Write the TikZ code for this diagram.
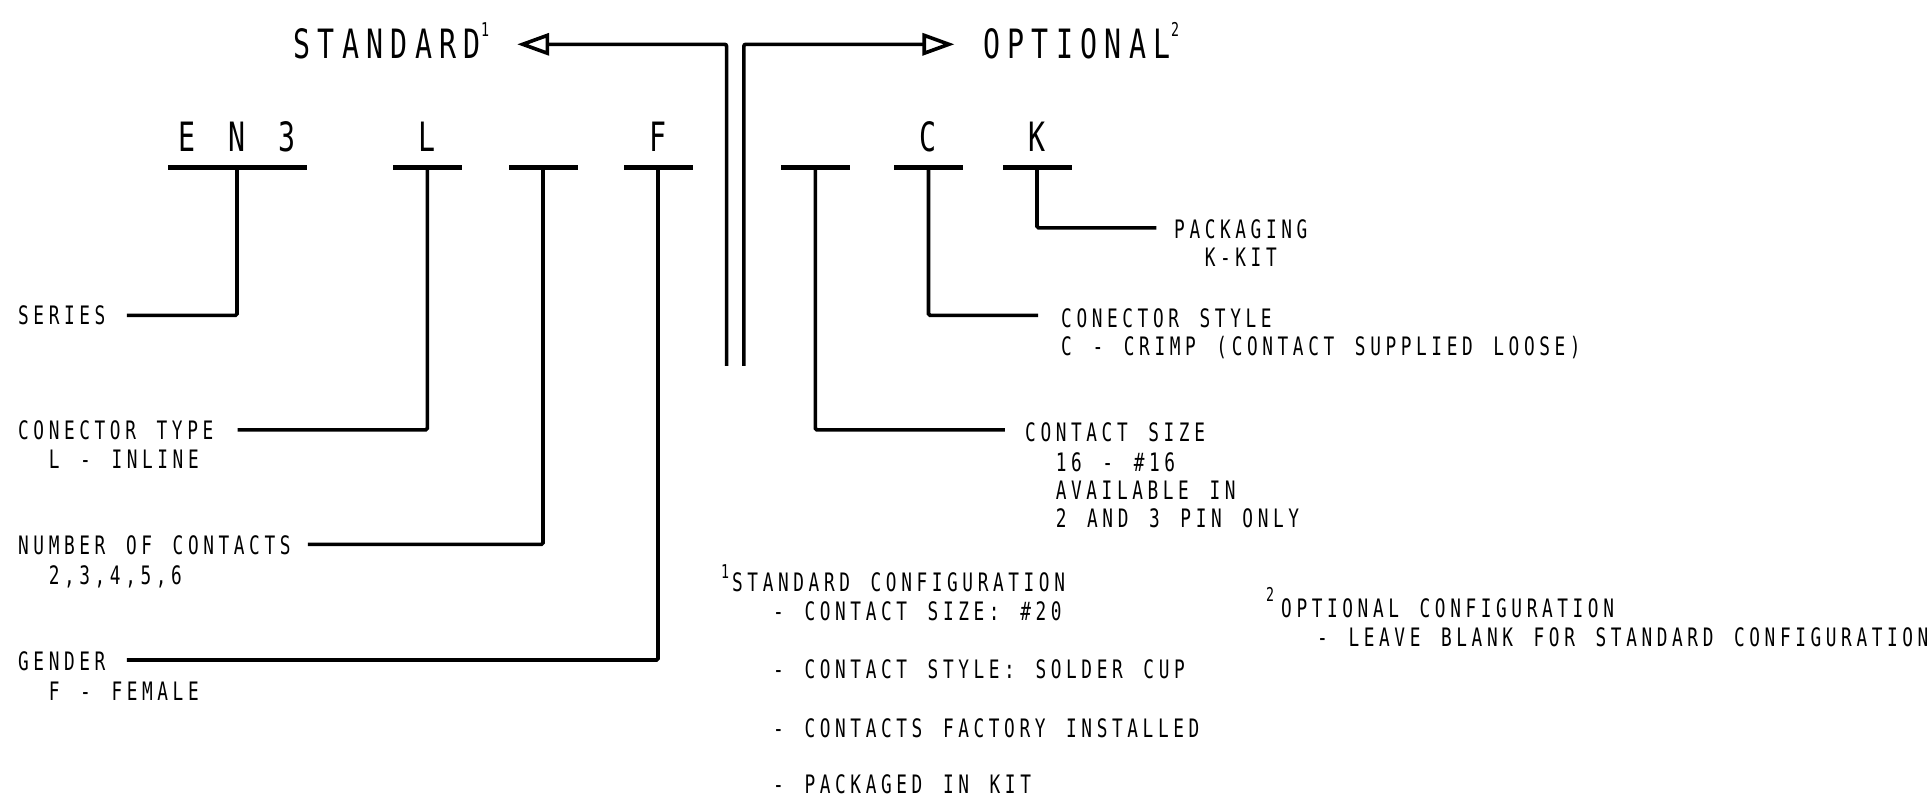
\documentclass[tikz,border=0pt]{standalone}
\usepackage{fontspec}
\setmonofont[FakeStretch=0.7,LetterSpace=18.1,WordSpace=1.35]{DejaVu Sans Mono}
\usetikzlibrary{arrows.meta}
\begin{document}
\begin{tikzpicture}[x=1pt,y=-1pt,
  lbl/.style={font=\ttfamily\fontsize{25.4}{29}\selectfont, anchor=base west, inner sep=0pt},
  big/.style={font=\ttfamily\fontsize{40.4}{44}\selectfont, inner sep=0pt},
  supr/.style={font=\ttfamily\fontsize{19}{20}\selectfont, anchor=base west, inner sep=0pt},
  barn/.style={fill=black, draw=none, inner sep=0pt, minimum height=4.2pt},
  conn/.style={line width=3.6pt, rounded corners=1.5pt},
  tip/.style={-{Triangle[open,length=32pt,width=22pt]}, line width=3.6pt, rounded corners=2pt}
]
\useasboundingbox (0,0) rectangle (1931,798);

% top arrows
\coordinate (vl) at (726.6,365.8);
\coordinate (vr) at (743.8,365.8);
\coordinate (tl) at (517.2,44.3);
\coordinate (tr) at (954.4,44.3);
\draw[tip] (vl) |- (tl);
\draw[tip] (vr) |- (tr);
\node[big, anchor=base east] (std) at (481,58.7) {STANDARD};
\node[supr] (stds) at ([yshift=22pt]std.base east) {1};
\node[big, anchor=base west] (opt) at (983,58.7) {OPTIONAL};
\node[supr] (opts) at ([yshift=22pt]opt.base east) {2};

% bars
\node[barn, minimum width=139pt] (b1) at (237,167.5) {};
\node[barn, minimum width=69pt] (b2) at (427.3,167.5) {};
\node[barn, minimum width=69pt] (b3) at (543,167.5) {};
\node[barn, minimum width=69pt] (b4) at (658,167.5) {};
\node[barn, minimum width=69pt] (b5) at (815.3,167.5) {};
\node[barn, minimum width=69pt] (b6) at (928.5,167.5) {};
\node[barn, minimum width=69pt] (b7) at (1037,167.5) {};

% code letters
\node[big, anchor=base] (l1) at (237,151.4) {E N 3};
\node[big, anchor=base] (l2) at (427.3,151.4) {L};
\node[big, anchor=base] (l4) at (658,151.4) {F};
\node[big, anchor=base] (l6) at (928.5,151.4) {C};
\node[big, anchor=base] (l7) at (1037,151.4) {K};

% connector ends
\coordinate (e1) at (126.8,315.3);
\coordinate (e2) at (237.7,429.8);
\coordinate (e3) at (307.9,544.3);
\coordinate (e4) at (126.8,660);
\coordinate (e5) at (1004.9,429.8);
\coordinate (e6) at (1038,315.3);
\coordinate (e7) at (1156.4,227.8);
\draw[conn] (b1.center) |- (e1);
\draw[conn] (b2.center) |- (e2);
\draw[conn] (b3.center) |- (e3);
\draw[conn] (b4.center) |- (e4);
\draw[conn] (b5.center) |- (e5);
\draw[conn] (b6.center) |- (e6);
\draw[conn] (b7.center) |- (e7);

% labels
\node[lbl] (ser) at (18,324.3) {SERIES};
\node[lbl] (ctype) at (18,439.3) {CONECTOR TYPE};
\node[lbl] (ctype2) at (48.6,468.3) {L - INLINE};
\node[lbl] (num) at (18,554.8) {NUMBER OF CONTACTS};
\node[lbl] (num2) at (48.6,584.3) {2,3,4,5,6};
\node[lbl] (gen) at (18,670.3) {GENDER};
\node[lbl] (gen2) at (48.6,700.3) {F - FEMALE};
\node[lbl] (csz) at (1025,441.3) {CONTACT SIZE};
\node[lbl] (csz2) at (1055.6,471.3) {16 - \#16};
\node[lbl] (csz3) at (1055.6,499.3) {AVAILABLE IN};
\node[lbl] (csz4) at (1055.6,527.8) {2 AND 3 PIN ONLY};
\node[lbl] (cst) at (1061,327) {CONECTOR STYLE};
\node[lbl] (cst2) at (1061,355.3) {C - CRIMP (CONTACT SUPPLIED LOOSE)};
\node[lbl] (pkg) at (1174,238.3) {PACKAGING};
\node[lbl] (pkg2) at (1204.6,266.7) {K-KIT};

% notes
\node[supr] (scs) at (721,578) {1};
\node[lbl] (sc) at (732,591.8) {STANDARD CONFIGURATION};
\node[lbl] (sc1) at (773,620) {- CONTACT SIZE: \#20};
\node[lbl] (sc2) at (773,678) {- CONTACT STYLE: SOLDER CUP};
\node[lbl] (sc3) at (773,737) {- CONTACTS FACTORY INSTALLED};
\node[lbl] (sc4) at (773,793.8) {- PACKAGED IN KIT};
\node[supr] (ocs) at (1266,601) {2};
\node[lbl] (oc) at (1281,617.7) {OPTIONAL CONFIGURATION};
\node[lbl] (oc1) at (1317,646) {- LEAVE BLANK FOR STANDARD CONFIGURATION};
\end{tikzpicture}
\end{document}
